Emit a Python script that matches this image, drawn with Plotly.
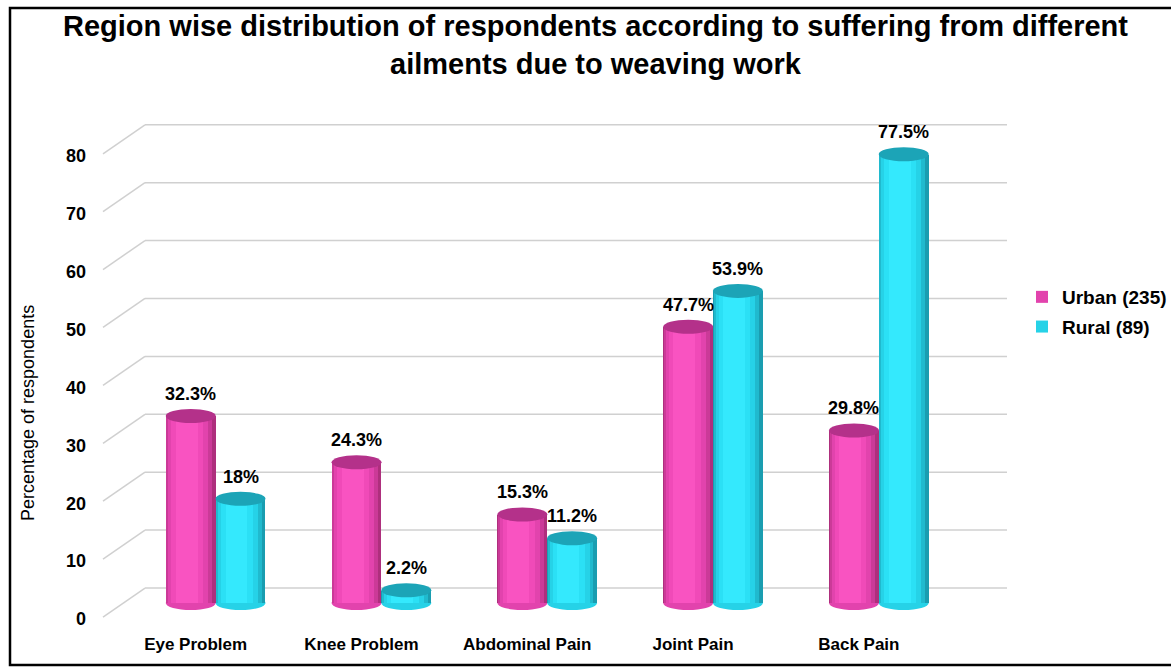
import plotly.graph_objects as go

# ---------------- data ----------------
categories = ["Eye Problem", "Knee Problem", "Abdominal Pain", "Joint Pain", "Back Pain"]
series_names = ["Urban (235)", "Rural (89)"]
urban_values = [32.3, 24.3, 15.3, 47.7, 29.8]
rural_values = [18.0, 2.2, 11.2, 53.9, 77.5]
urban_labels = ["32.3%", "24.3%", "15.3%", "47.7%", "29.8%"]
rural_labels = ["18%", "2.2%", "11.2%", "53.9%", "77.5%"]
y_ticks = [0, 10, 20, 30, 40, 50, 60, 70, 80]
title_text = ("Region wise distribution of respondents according to suffering from different"
              "<br>ailments due to weaving work")
y_title = "Percentage of respondents"

# ---------------- styling ----------------
W, H = 1171, 667
def px_x(p):
    return p / W
def px_y(p):
    return 1 - p / H

FONT = "Liberation Sans"

BAR_W = 0.30
series = [
    dict(name=series_names[0], values=urban_values, labels=urban_labels, offset=-BAR_W,
         layers=[(1.00, 0.50, "#AE2F7D"), (0.92, 0.47, "#CB3A98"), (0.80, 0.45, "#E243AD"),
                 (0.64, 0.43, "#F04AB8"), (0.44, 0.42, "#F953C1")],
         legend_layer=2, top="#B4318A"),
    dict(name=series_names[1], values=rural_values, labels=rural_labels, offset=0.0,
         layers=[(1.00, 0.50, "#1A9DB0"), (0.92, 0.47, "#20BACE"), (0.80, 0.45, "#26D2E7"),
                 (0.64, 0.43, "#2BE0F5"), (0.44, 0.42, "#34E9FD")],
         legend_layer=2, top="#1CA4B7"),
]

xs = list(range(len(categories)))
fig = go.Figure()
shapes = []
annotations = []

for si, s in enumerate(series):
    for li, (wf, cf, col) in enumerate(s["layers"]):
        fig.add_trace(go.Bar(
            x=xs, y=s["values"], name=s["name"],
            width=[wf * BAR_W] * len(xs),
            offset=[s["offset"] + (cf - wf / 2) * BAR_W] * len(xs),
            marker=dict(color=col, line=dict(width=0)),
            showlegend=(li == s["legend_layer"]),
            legendgroup=s["name"], legendrank=si + 1,
            hovertemplate="%{x}: %{y}%<extra>" + s["name"] + "</extra>",
        ))
    for i, v in enumerate(s["values"]):
        cx = i + s["offset"] + BAR_W / 2
        # bottom rounded base
        shapes.append(dict(type="circle", xref="x", yref="y", xsizemode="pixel", ysizemode="pixel",
                           xanchor=cx, yanchor=0, x0=-25, x1=25, y0=-7, y1=7,
                           fillcolor=s["layers"][2][2], line=dict(width=0), layer="between"))
        # top ellipse
        shapes.append(dict(type="circle", xref="x", yref="y", xsizemode="pixel", ysizemode="pixel",
                           xanchor=cx, yanchor=v, x0=-25, x1=25, y0=-7, y1=7,
                           fillcolor=s["top"], line=dict(width=0), layer="above"))
        annotations.append(dict(x=cx, y=v, xref="x", yref="y", text=s["labels"][i], showarrow=False,
                                yshift=22, font=dict(family=FONT, size=18, color="black", weight="bold")))

# back-wall gridlines and perspective diagonals
for t in y_ticks:
    shapes.append(dict(type="line", xref="paper", yref="y", ysizemode="pixel", yanchor=t,
                       x0=px_x(145), x1=px_x(1007), y0=15, y1=15,
                       line=dict(color="#D0D0D0", width=1.5), layer="below"))
    shapes.append(dict(type="line", xref="paper", yref="y", ysizemode="pixel", yanchor=t,
                       x0=px_x(103), x1=px_x(145), y0=-14, y1=15,
                       line=dict(color="#D0D0D0", width=1.5), layer="below"))

# outer frame
shapes.append(dict(type="rect", xref="paper", yref="paper", x0=px_x(10), x1=1.02,
                   y0=px_y(665), y1=px_y(8), line=dict(color="black", width=2.5),
                   fillcolor="rgba(0,0,0,0)", layer="below"))

# title
annotations.append(dict(x=px_x(595), y=px_y(8), xref="paper", yref="paper", text=title_text,
                        xanchor="center", yanchor="top", showarrow=False, align="center",
                        font=dict(family=FONT, size=29, color="black", weight="bold")))
# y-axis title
annotations.append(dict(x=px_x(28), y=px_y(413), xref="paper", yref="paper", text=y_title,
                        textangle=-90, xanchor="center", yanchor="middle", showarrow=False,
                        font=dict(family=FONT, size=18, color="black")))

fig.update_layout(
    width=W, height=H,
    margin=dict(l=0, r=0, t=0, b=0, autoexpand=False),
    paper_bgcolor="white", plot_bgcolor="rgba(0,0,0,0)",
    barmode="overlay", bargap=0,
    xaxis=dict(domain=[px_x(145), px_x(1007)], range=[-0.426, 4.773], automargin=False,
               tickvals=xs, ticktext=categories, showgrid=False, zeroline=False, showline=False,
               ticks="", ticklabelshift=-20, ticklabelstandoff=12,
               tickfont=dict(family=FONT, size=17, color="black", weight="bold"), fixedrange=True),
    yaxis=dict(domain=[px_y(620.4), px_y(116.6)], range=[-3, 84], automargin=False,
               tickvals=y_ticks, ticktext=[str(t) for t in y_ticks],
               showgrid=False, zeroline=False, showline=False, ticks="",
               ticklabelshift=16, ticklabelstandoff=58,
               tickfont=dict(family=FONT, size=18, color="black", weight="bold"), fixedrange=True),
    legend=dict(x=px_x(1022), y=px_y(278), xanchor="left", yanchor="top", tracegroupgap=2,
                font=dict(family=FONT, size=19, color="black", weight="bold"),
                bgcolor="rgba(0,0,0,0)", itemclick=False, itemdoubleclick=False),
    shapes=shapes,
    annotations=annotations,
)

fig.write_html("out.html")
